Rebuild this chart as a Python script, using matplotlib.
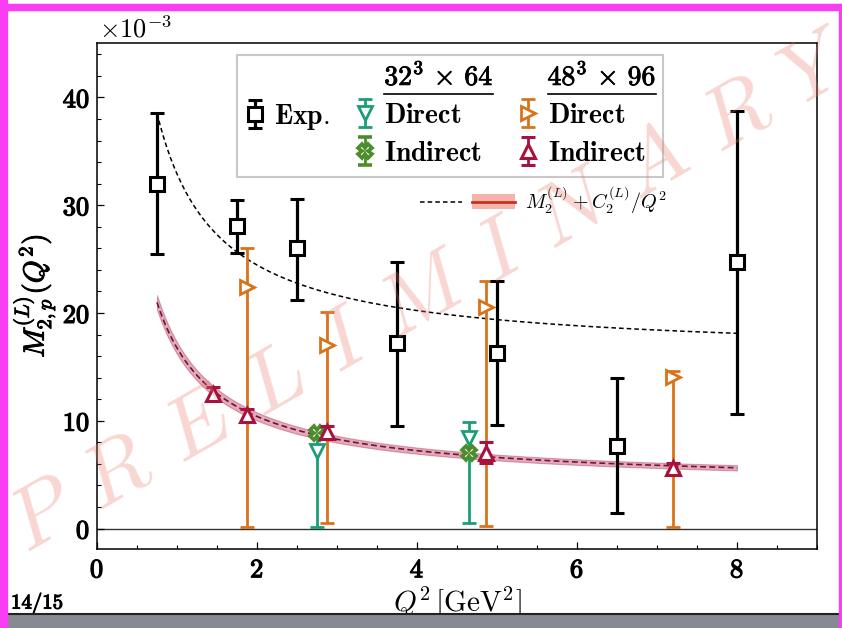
import numpy as np
import matplotlib
matplotlib.use("Agg")
import matplotlib.pyplot as plt
from matplotlib.lines import Line2D
from matplotlib.patches import Rectangle, Patch
from matplotlib.legend_handler import HandlerTuple
from matplotlib.ticker import MultipleLocator, FuncFormatter
import matplotlib.patheffects as pe

plt.rcParams["mathtext.fontset"] = "cm"
plt.rcParams["font.family"] = ["DejaVu Serif"]

# ---------------- data (units of 1e-3) ----------------
# experimental moments
q2_exp = [0.75, 1.75, 2.5, 3.75, 5.0, 6.5, 8.0]
m_exp = [32.0, 28.1, 26.0, 17.2, 16.3, 7.7, 24.7]
m_exp_lo = [25.5, 25.6, 21.2, 9.5, 9.6, 1.4, 10.6]
m_exp_hi = [38.6, 30.5, 30.6, 24.7, 23.0, 14.0, 38.7]

# 32^3 x 64 ensemble
q2_32 = [2.75, 4.65]
m_32_direct = [7.15, 8.4]
m_32_direct_lo = [0.15, 0.55]
m_32_direct_hi = [9.0, 9.9]
m_32_indirect = [8.85, 7.05]
m_32_indirect_err = [0.35, 0.35]

# 48^3 x 96 ensemble
q2_48_direct = [1.87, 2.87, 4.86, 7.2]
m_48_direct = [22.4, 17.0, 20.6, 14.1]
m_48_direct_lo = [0.1, 0.5, 0.2, 0.1]
m_48_direct_hi = [26.0, 20.1, 23.0, 14.6]
q2_48_indirect = [1.45, 1.87, 2.87, 4.86, 7.2]
m_48_indirect = [12.5, 10.55, 8.95, 7.05, 5.66]
m_48_indirect_err = [0.6, 0.55, 0.6, 0.95, 0.4]

# fits M2 + C2/Q^2 : (M2, C2)
fit_q2_range = (0.75, 8.0)
exp_fit = (16.0, 16.9)
lat_fit = (4.05, 12.7)
lat_fit_err = (0.2, 0.35)

# ---------------- style ----------------
c_exp = "black"
c_32d = "#1b9e77"
c_32i = "#4d8c2a"
c_48d = "#d9731a"
c_48i = "#a8123e"
magenta = "#fb3cf5"
embolden = [pe.withStroke(linewidth=0.9, foreground="black")]

W, H = 842, 628
fig = plt.figure(figsize=(W / 100, H / 100), dpi=100)


def fx(px):
    return px / W


def fy(py):
    return 1 - py / H


ax = fig.add_axes([fx(97), fy(549), fx(817) - fx(97), fy(43) - fy(549)])
ax.set_xlim(0, 9)
ax.set_ylim(-1.9, 45.05)


def asym(v, lo, hi):
    v, lo, hi = map(np.asarray, (v, lo, hi))
    return [v - lo, hi - v]


# fit curves
q = np.linspace(*fit_q2_range, 300)
exp_curve = exp_fit[0] + exp_fit[1] / q
lat_curve = lat_fit[0] + lat_fit[1] / q
lat_band = lat_fit_err[0] + lat_fit_err[1] / q
ax.fill_between(q, lat_curve - lat_band, lat_curve + lat_band,
                color=c_48i, alpha=0.35, lw=0.8, zorder=2)
ax.plot(q, lat_curve, color="#7a1030", lw=1.2, dashes=(3.5, 2), zorder=2.5)
ax.plot(q, exp_curve, color="black", lw=1.1, dashes=(3, 2), zorder=2.5)
ax.axhline(0, color="#333333", lw=1.0, zorder=1)

ebkw = dict(linestyle="none", capsize=5, markersize=10, markerfacecolor="white")

h_exp = ax.errorbar(q2_exp, m_exp, yerr=asym(m_exp, m_exp_lo, m_exp_hi),
                    fmt="s", color=c_exp, elinewidth=2.3, capthick=2.3,
                    markeredgewidth=2.2, zorder=5, **ebkw)
h_32d = ax.errorbar(q2_32, m_32_direct,
                    yerr=asym(m_32_direct, m_32_direct_lo, m_32_direct_hi),
                    fmt="v", color=c_32d, elinewidth=2.0, capthick=2.0,
                    markeredgewidth=2.0, zorder=3, **ebkw)
h_32i = ax.errorbar(q2_32, m_32_indirect, yerr=m_32_indirect_err,
                    fmt="X", color=c_32i, elinewidth=2.0, capthick=2.0,
                    markeredgewidth=2.6, zorder=3.5, **ebkw)
h_48d = ax.errorbar(q2_48_direct, m_48_direct,
                    yerr=asym(m_48_direct, m_48_direct_lo, m_48_direct_hi),
                    fmt=">", color=c_48d, elinewidth=2.0, capthick=2.0,
                    markeredgewidth=2.0, zorder=4, **ebkw)
h_48i = ax.errorbar(q2_48_indirect, m_48_indirect, yerr=m_48_indirect_err,
                    fmt="^", color=c_48i, elinewidth=2.0, capthick=2.0,
                    markeredgewidth=2.2, zorder=4.5, **ebkw)

# axes styling
for s in ax.spines.values():
    s.set_linewidth(1.1)
ax.xaxis.set_major_locator(MultipleLocator(2))
ax.xaxis.set_minor_locator(MultipleLocator(0.5))
ax.yaxis.set_major_locator(MultipleLocator(10))
ax.yaxis.set_minor_locator(MultipleLocator(2))
ax.tick_params(which="both", direction="in", top=False, right=False)
ax.tick_params(which="major", length=5, width=0.9, labelsize=19)
ax.tick_params(which="minor", length=3, width=0.8)
ax.tick_params(axis="y", pad=5)
ax.tick_params(axis="x", pad=6)
bold_fmt = FuncFormatter(lambda v, p: r"$\mathbf{%d}$" % round(v))
ax.xaxis.set_major_formatter(bold_fmt)
ax.yaxis.set_major_formatter(bold_fmt)

ax.set_xlabel(r"$Q^2\,[\mathrm{GeV}^2]$", fontsize=21, labelpad=1)
ax.set_ylabel(r"$M^{(L)}_{2,p}(Q^2)$", fontsize=21, labelpad=4,
              path_effects=[pe.withStroke(linewidth=0.7, foreground="black")])
fig.text(fx(99), fy(29), r"$\times 10^{-3}$", fontsize=19, va="center", ha="left")

# legends
blank = Line2D([], [], alpha=0)
handles = [blank, h_exp, blank, blank, h_32d, h_32i, blank, h_48d, h_48i]
labels = ["", r"$\mathbf{Exp.}$", "",
          r"$\mathbf{32^3\,\times\,64}$", r"$\mathbf{Direct}$", r"$\mathbf{Indirect}$",
          r"$\mathbf{48^3\,\times\,96}$", r"$\mathbf{Direct}$", r"$\mathbf{Indirect}$"]
leg1 = ax.legend(handles, labels, ncol=3, loc="upper left",
                 bbox_to_anchor=(fx(237), fy(55)), bbox_transform=fig.transFigure,
                 borderaxespad=0, fontsize=20, handlelength=0.8, handletextpad=0.3,
                 columnspacing=0.85, labelspacing=0.4, borderpad=0.25,
                 fancybox=False, edgecolor="#c8c8c8", framealpha=1)
leg1.get_frame().set_linewidth(1.5)
ax.add_artist(leg1)

dash_h = Line2D([], [], color="black", lw=1.1, dashes=(3, 2))
band_h = Patch(facecolor="#f4b4ac", edgecolor="none")
line_h = Line2D([], [], color="#c8321e", lw=2.0)
fit_handle = (dash_h, (band_h, line_h))
leg2 = ax.legend([fit_handle], [r"$M_2^{(L)}+C_2^{(L)}/Q^2$"], loc="upper left",
                 bbox_to_anchor=(fx(420), fy(184)), bbox_transform=fig.transFigure,
                 borderaxespad=0, fontsize=14.5, frameon=False, handlelength=4.7,
                 handletextpad=0.5, borderpad=0,
                 handler_map={fit_handle: HandlerTuple(ndivide=None, pad=0.5)})

fig.canvas.draw()
renderer = fig.canvas.get_renderer()
inv = fig.transFigure.inverted()

# heavier glyphs for tick labels and ensemble headers
for t in ax.get_xticklabels() + ax.get_yticklabels():
    t.set_path_effects(embolden)
for i in (3, 6):
    t = leg1.get_texts()[i]
    t.set_path_effects([pe.withStroke(linewidth=0.6, foreground="black")])
    bb = t.get_window_extent(renderer)
    (x0, y0), (x1, _) = inv.transform([(bb.x0, bb.y0 - 3), (bb.x1, bb.y0)])
    fig.add_artist(Line2D([x0, x1], [y0, y0], transform=fig.transFigure,
                          color="black", lw=1.2))

# watermark
fig.text(fx(431), fy(292), r"$P\:\,R\:\,E\:\,L\:\,I\:\,M\:\,I\:\,N\:\,A\:\,R\:\,Y$",
         fontsize=62, rotation=30, rotation_mode="anchor", ha="center", va="center",
         color="#e8796e", alpha=0.3, zorder=20)

# slide frame
fig.add_artist(Rectangle((0, 0), fx(7), 1, transform=fig.transFigure,
                         color=magenta, zorder=30))
fig.add_artist(Rectangle((0, fy(10)), 1, fy(4) - fy(10), transform=fig.transFigure,
                         color=magenta, zorder=30))
fig.add_artist(Rectangle((fx(839), 0), fx(3), fy(4), transform=fig.transFigure,
                         color=magenta, zorder=30))
fig.add_artist(Rectangle((fx(7), 0), fx(839) - fx(7), fy(614), transform=fig.transFigure,
                         color="#878b91", zorder=29))
fig.add_artist(Line2D([fx(7), fx(839)], [fy(614), fy(614)], transform=fig.transFigure,
                      color="#222222", lw=1.5, zorder=29))
fig.text(fx(11), fy(603), r"$\mathbf{14/15}$", fontsize=15, va="center", ha="left",
         path_effects=[pe.withStroke(linewidth=0.8, foreground="black")])

fig.savefig("out.png", dpi=100)
